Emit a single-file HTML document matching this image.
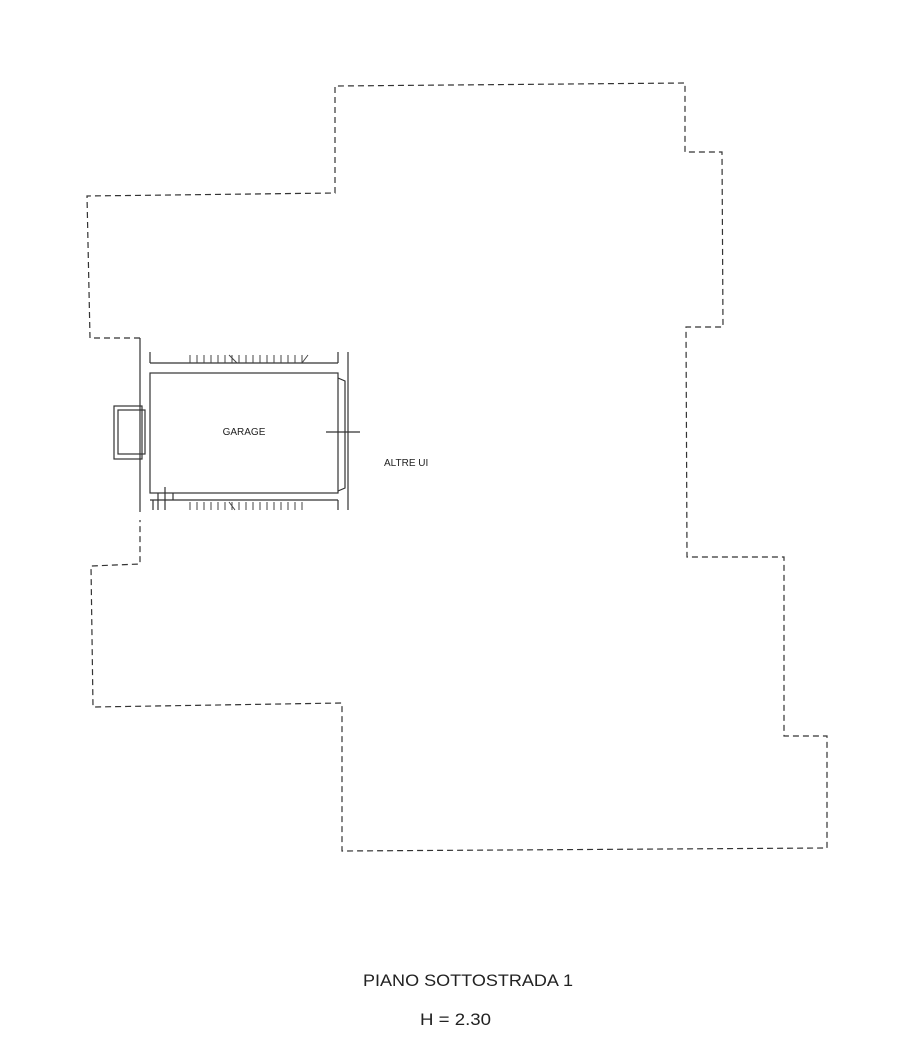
<!DOCTYPE html>
<html><head><meta charset="utf-8"><style>
html,body{margin:0;padding:0;background:#fff;}
svg{display:block;}
text{font-family:"Liberation Sans",Arial,sans-serif;fill:#222;}
</style></head><body>
<svg width="916" height="1056" viewBox="0 0 916 1056" xmlns="http://www.w3.org/2000/svg">
<g fill="none" stroke="#333" stroke-width="1.2" stroke-dasharray="6,4">
<polyline points="140,338 90,338 87,196 335,193 335,86 685,83 685,152 722,152 723,327 686,327 687,557 784,557 784,736 827,736 827,848 342,851 342,703 93,707 91,566 140,564 140,520"/>
</g>
<g fill="none" stroke="#333" stroke-width="1.2">
<line x1="140" y1="338" x2="140" y2="512"/>
<line x1="348" y1="352" x2="348" y2="510"/>
<line x1="150" y1="363" x2="338" y2="363"/>
<line x1="150" y1="352" x2="150" y2="363"/>
<line x1="338" y1="352" x2="338" y2="363"/>
<rect x="150" y="373" width="188" height="120"/>
<polyline points="338,378 345,381 345,488 338,491"/>
<rect x="114" y="406" width="28" height="53"/>
<rect x="118" y="410" width="27" height="44"/>
<line x1="150" y1="500" x2="338" y2="500"/>
<line x1="153" y1="500" x2="153" y2="510"/>
<line x1="338" y1="500" x2="338" y2="510"/>
<line x1="158" y1="493" x2="158" y2="510"/>
<line x1="165" y1="487" x2="165" y2="510"/>
<line x1="173" y1="493" x2="173" y2="500"/>
<line x1="326" y1="432" x2="360" y2="432"/>
</g>
<g stroke="#444" stroke-width="1">
<path d="M190,355v8 M197,355v8 M204,355v8 M211,355v8 M218,355v8 M225,355v8 M232,355v8 M239,355v8 M246,355v8 M253,355v8 M260,355v8 M267,355v8 M274,355v8 M281,355v8 M288,355v8 M295,355v8 M302,355v8 M229,355l8,8 M302,363l6,-8"/>
<path d="M190,502v8 M197,502v8 M204,502v8 M211,502v8 M218,502v8 M225,502v8 M232,502v8 M239,502v8 M246,502v8 M253,502v8 M260,502v8 M267,502v8 M274,502v8 M281,502v8 M288,502v8 M295,502v8 M302,502v8 M229,502l6,8"/>
</g>
<text x="244" y="435" font-size="10" text-anchor="middle">GARAGE</text>
<text x="384" y="466" font-size="10">ALTRE UI</text>
<text x="363" y="986" font-size="17" textLength="210" lengthAdjust="spacingAndGlyphs">PIANO SOTTOSTRADA 1</text>
<text x="420" y="1025" font-size="17" textLength="71" lengthAdjust="spacingAndGlyphs">H = 2.30</text>
</svg>
</body></html>
